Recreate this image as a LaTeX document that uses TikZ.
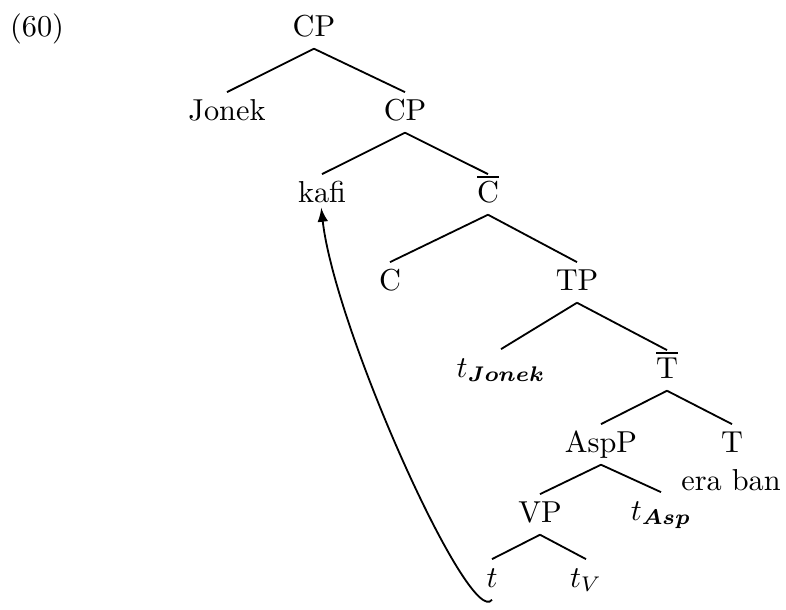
\documentclass[tikz,border=0pt]{standalone}
\usepackage{amsmath}
\usetikzlibrary{arrows,calc}
\tikzset{cat/.style={anchor=base,inner sep=2pt,text height=7pt,text depth=2pt},
  branch/.style={line width=0.6pt}}

\begin{document}
\begin{tikzpicture}[x=0.33pt,y=-0.33pt]
\useasboundingbox (0,0) rectangle (786,609);

\node[cat] (ex) at (37,36) {(60)};

\node[cat] (cpA) at (314,36) {CP};
\node[cat] (jonek) at (227,120) {Jonek};
\node[cat] (cpB) at (405,120) {CP};
\node[cat] (kafi) at (322,202) {kafi};
\node[cat] (cbar) at (488,202) {$\overline{\mathrm{C}}$};
\node[cat] (c) at (390,290) {C};
\node[cat] (tp) at (577,290) {TP};
\node[cat] (tjonek) at (501,377) {$t_{\boldsymbol{Jonek}}$};
\node[cat] (tbar) at (667,378) {$\overline{\mathrm{T}}$};
\node[cat] (aspp) at (601,452) {AspP};
\node[cat] (t) at (732,452) {T};
\node[cat] (eraban) at (731,490) {era ban};
\node[cat] (vp) at (540,522) {VP};
\node[cat] (tasp) at (661,520) {$t_{\boldsymbol{Asp}}$};
\node[cat] (trace) at (492,587) {$t$};
\node[cat] (tv) at (586,587) {$t_V$};

% branches
\foreach \p/\d in {cpA/jonek,cpA/cpB,cpB/kafi,cpB/cbar,cbar/c,cbar/tp,
  tp/tjonek,tp/tbar,tbar/aspp,tbar/t,aspp/vp,aspp/tasp,vp/trace,vp/tv}
  \draw[branch] (\p.south) -- (\d.north);

% movement
\draw[branch,-latex,shorten >=-2.3pt] (trace.south) .. controls ($(trace.south)+(-22,30)$) and ($(kafi.south)+(13,116)$) .. (kafi.south);

\end{tikzpicture}
\end{document}
